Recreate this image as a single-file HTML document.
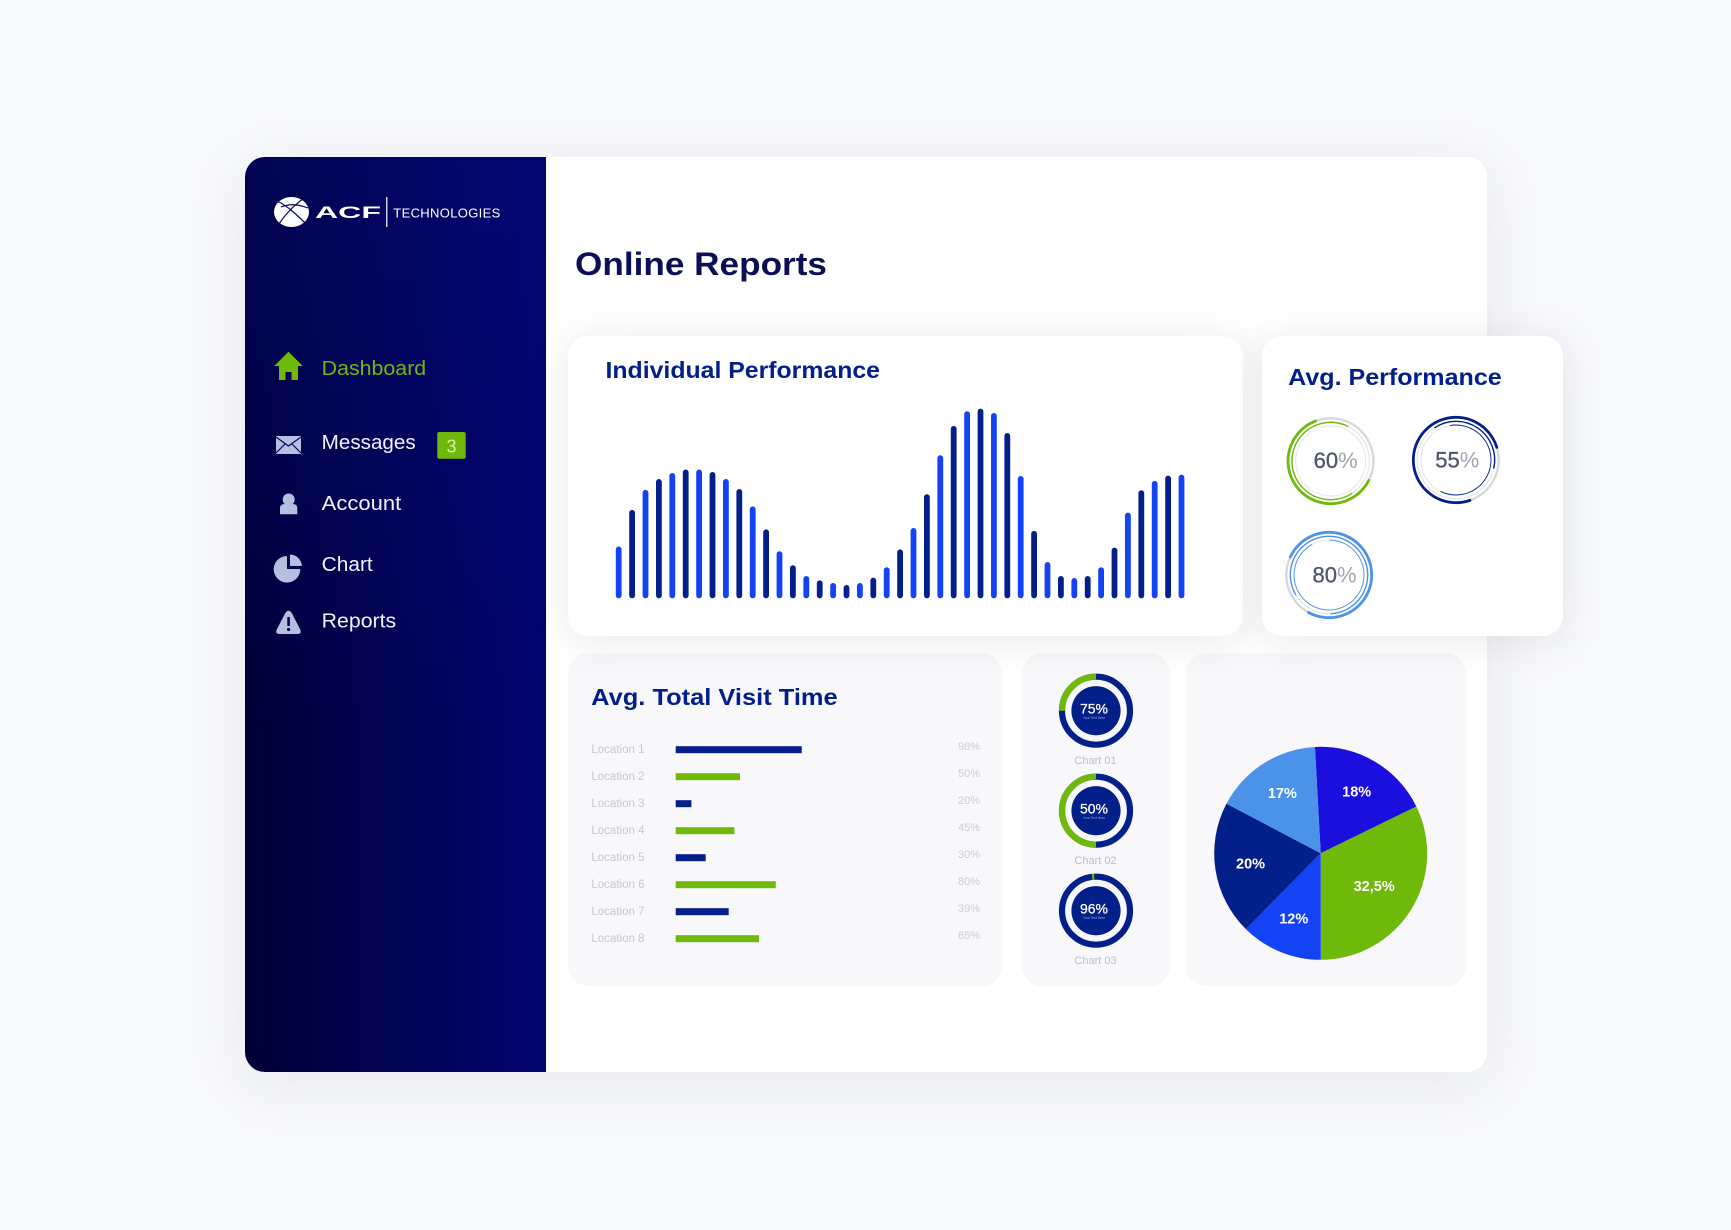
<!DOCTYPE html>
<html lang="en">
<head>
<meta charset="utf-8">
<title>Online Reports</title>
<style>
html,body{margin:0;padding:0;background:#f8f9fb;}
body{position:relative;width:1731px;height:1230px;overflow:hidden;font-family:"Liberation Sans",sans-serif;}
.box{position:absolute;box-sizing:border-box;}
#main-panel{left:245px;top:157px;width:1242px;height:915px;background:#fff;border-radius:20px;box-shadow:0 12px 60px rgba(40,40,70,.08);}
#sidebar{left:245px;top:157px;width:301px;height:915px;border-radius:20px 0 0 20px;background:linear-gradient(180deg,rgba(4,10,120,.4) 0%,rgba(4,10,120,.22) 35%,rgba(4,10,120,0) 62%),linear-gradient(90deg,#000036 0%,#020254 50%,#03036f 100%);}
.soft{background:#f8f8fb;border-radius:20px;}
.raised{background:#fff;border-radius:20px;box-shadow:0 4px 42px rgba(30,30,50,.1);}
svg{position:absolute;left:0;top:0;}
</style>
</head>
<body>
<div class="box" id="main-panel"></div>
<div class="box" id="sidebar"></div>
<div class="box soft" style="left:568px;top:653px;width:434px;height:333px"></div>
<div class="box soft" style="left:1022px;top:653px;width:148px;height:333px"></div>
<div class="box soft" style="left:1186px;top:653px;width:280px;height:333px"></div>
<div class="box raised" style="left:568px;top:336px;width:675px;height:300px"></div>
<div class="box raised" style="left:1262px;top:336px;width:301px;height:300px"></div>

<svg id="art" width="1731" height="1230" viewBox="0 0 1731 1230" xmlns="http://www.w3.org/2000/svg" font-family="'Liberation Sans',sans-serif">
  <!-- logo -->
  <g>
    <ellipse cx="291.5" cy="212" rx="17.5" ry="15" fill="#fff"/>
    <path d="M277 201 C288 206 298 216 306 224 M303 199 C294 205 284 216 279 224 M281 207 C291 203 300 205 308 208" fill="none" stroke="#04055e" stroke-width="1.2"/>
    <text x="315" y="218" font-size="17" font-weight="700" fill="#fff" textLength="66" lengthAdjust="spacingAndGlyphs">ACF</text>
    <rect x="386.2" y="197" width="1.2" height="30" fill="#fff"/>
    <text x="393.3" y="217.3" font-size="13" fill="#fff" textLength="107" lengthAdjust="spacing">TECHNOLOGIES</text>
  </g>

  <!-- navigation -->
  <g>
    <path d="M288.5 351.7 L302.7 366 H298 V380 H291.5 V372 H285.5 V380 H279 V366 H274.3 Z" fill="#6fb90a"/>
    <text x="321.7" y="375" font-size="20" fill="#6fb90a" textLength="104.5" lengthAdjust="spacingAndGlyphs">Dashboard</text>
  </g>
  <g>
    <rect x="276" y="436" width="25" height="18" fill="#b4c0e0"/>
    <path d="M276 437 L288.5 446 L301 437 M276 453 L285 444 M301 453 L292 444" fill="none" stroke="#03045c" stroke-width="1.2"/>
    <text x="321.7" y="449" font-size="20" fill="#f1f3fb" textLength="94" lengthAdjust="spacingAndGlyphs">Messages</text>
    <rect x="437.3" y="432" width="28.4" height="26.7" rx="2" fill="#6fb90a"/>
    <text x="451.5" y="452.5" font-size="18" text-anchor="middle" fill="#d8edb0">3</text>
  </g>
  <g>
    <circle cx="288.7" cy="499.5" r="6" fill="#b4c0e0"/>
    <path d="M280 514.3 V508 Q280 504 285 504 H292.5 Q297.3 504 297.3 508 V514.3 Z" fill="#b4c0e0"/>
    <text x="321.7" y="510" font-size="20" fill="#f1f3fb" textLength="79.5" lengthAdjust="spacingAndGlyphs">Account</text>
  </g>
  <g>
    <path d="M287 556 V569 H300.3 A13.3 13.3 0 1 1 287 556 Z" fill="#b4c0e0"/>
    <path d="M290 554.5 A12 12 0 0 1 301.8 566 H290 Z" fill="#b4c0e0"/>
    <text x="321.7" y="571" font-size="20" fill="#f1f3fb" textLength="51" lengthAdjust="spacingAndGlyphs">Chart</text>
  </g>
  <g>
    <path d="M288.5 610.7 Q290.5 610.7 292 613.5 L300.5 630 Q301.7 634 297.5 634 H279.5 Q275.3 634 276.5 630 L285 613.5 Q286.5 610.7 288.5 610.7 Z" fill="#b4c0e0"/>
    <rect x="287.3" y="617" width="2.6" height="9" fill="#03045c"/>
    <circle cx="288.6" cy="629.5" r="1.6" fill="#03045c"/>
    <text x="321.7" y="627.3" font-size="20" fill="#f1f3fb" textLength="74.5" lengthAdjust="spacingAndGlyphs">Reports</text>
  </g>

  <!-- titles -->
  <text x="575" y="275" font-size="32.5" font-weight="700" fill="#0c0f55" textLength="252" lengthAdjust="spacingAndGlyphs">Online Reports</text>
  <text x="605.5" y="378" font-size="23" font-weight="700" fill="#03208a" textLength="274.5" lengthAdjust="spacingAndGlyphs">Individual Performance</text>
  <text x="1288.2" y="385" font-size="23" font-weight="700" fill="#03208a" textLength="213.5" lengthAdjust="spacingAndGlyphs">Avg. Performance</text>
  <text x="591.2" y="705" font-size="23" font-weight="700" fill="#03208a" textLength="246.5" lengthAdjust="spacingAndGlyphs">Avg. Total Visit Time</text>

  <g id="perf-bars"></g>
  <g id="rings"></g>
  <g id="visit-rows"></g>
  <g id="donuts"></g>
  <g id="pie"></g>
</svg>

<script>
// Individual Performance: bar heights, as a share of the tallest bar
const perfValues = [26.9,46.3,56.9,62.7,65.9,67.7,67.7,66.4,62.7,57.4,48.2,36.0,24.4,17.0,11.3,9.0,7.6,6.5,7.6,10.4,15.9,25.4,36.7,54.6,75.3,90.8,98.6,100,97.7,87.1,64.3,35.2,18.7,11.3,10.2,11.3,15.9,26.3,44.9,56.7,61.7,64.5,65.0];
// Avg. Performance rings
const ringLabels = [60,55,80];
const ringOuterArc = [61.7,75.5,76];
const ringMiddleArc = [67,38,83];
const ringInnerArc = [0,60,92];
// Avg. Total Visit Time
const visitCategories = ["Location 1","Location 2","Location 3","Location 4","Location 5","Location 6","Location 7","Location 8"];
const visitValues = [98,50,12.2,45.6,23.3,77.8,41.2,64.8];
const visitLabels = ["98%","50%","20%","45%","30%","80%","39%","65%"];
// Donuts: printed value, and the share of the ring drawn green
const donutLabels = ["75%","50%","96%"];
const donutGreenShare = [25,50,1];
const donutNames = ["Chart 01","Chart 02","Chart 03"];
const pieValues = [18.6,32.2,12.4,20.3,16.4];
const pieLabels = ["18%","32,5%","12%","20%","17%"];

const NS = "http://www.w3.org/2000/svg";
const NAVY = "#03208a", BLUE = "#1442f5", GREEN = "#6fb90a";
function mk(parent, tag, attrs, text){
  const el = document.createElementNS(NS, tag);
  for (const k in attrs) el.setAttribute(k, attrs[k]);
  if (text !== undefined) el.textContent = text;
  parent.appendChild(el);
  return el;
}
function polar(cx, cy, r, deg){
  const a = (deg - 90) * Math.PI / 180;
  return [cx + r * Math.cos(a), cy + r * Math.sin(a)];
}
function arcPath(cx, cy, r, startDeg, sweepDeg){
  const s = Math.min(sweepDeg, 359.99);
  const p0 = polar(cx, cy, r, startDeg), p1 = polar(cx, cy, r, startDeg + s);
  return "M" + p0[0] + " " + p0[1] + " A" + r + " " + r + " 0 " + (s > 180 ? 1 : 0) + " 1 " + p1[0] + " " + p1[1];
}

// performance bars
const perfX = i => 618.7 + 13.4 * i;
const perfY = v => 597.3 - v * 1.887;
const perfG = document.getElementById("perf-bars");
perfValues.forEach((v, i) => {
  const top = perfY(v);
  const bar = mk(perfG, "rect", {x: perfX(i) - 2.9, y: top, width: 5.8, height: perfY(0) - top + 1, rx: 2.9, fill: i % 2 ? NAVY : BLUE});
  
  
});

// rings
const ringLayout = [
  {cx:1330.7, cy:461, color:GREEN, tx:5, ty:7, a:117, b:146, c:0},
  {cx:1456, cy:460, color:NAVY, tx:1.3, ty:7.5, a:161, b:326, c:350},
  {cx:1329, cy:575, color:"#4a93e8", tx:5.5, ty:7.5, a:295, b:239, c:0}
];
const ringsG = document.getElementById("rings");
ringLabels.forEach((v, i) => {
  const L = ringLayout[i];
  const g = mk(ringsG, "g", {});
  
  
  const track = mk(g, "circle", {cx:L.cx, cy:L.cy, r:42.7, fill:"none", stroke:"#d8d8d8", "stroke-width":2.4});
  
  
  const track2 = mk(g, "circle", {cx:L.cx, cy:L.cy, r:38.7, fill:"none", stroke:"#e0e0e0", "stroke-width":1});
  
  
  const track3 = mk(g, "circle", {cx:L.cx, cy:L.cy, r:35, fill:"none", stroke:"#e6e6e6", "stroke-width":1});
  
  
  const outer = mk(g, "path", {d:arcPath(L.cx, L.cy, 42.7, L.a, ringOuterArc[i] * 3.6), fill:"none", stroke:L.color, "stroke-width":2.8, "stroke-linecap":"round"});
  
  
  const mid = mk(g, "path", {d:arcPath(L.cx, L.cy, 38.7, L.b, ringMiddleArc[i] * 3.6), fill:"none", stroke:L.color, "stroke-width":1.4});
  
  
  if (ringInnerArc[i] > 0) {
    const inner = mk(g, "path", {d:arcPath(L.cx, L.cy, 35, L.c, ringInnerArc[i] * 3.6), fill:"none", stroke:L.color, "stroke-width":0.9});
    
    
  }
  const t = mk(g, "text", {x:L.cx + L.tx, y:L.cy + L.ty, "font-size":22, "text-anchor":"middle", fill:"#4f566e", stroke:"#4f566e", "stroke-width":0.35}, v);
  
  
  mk(t, "tspan", {fill:"#a3a5ad", stroke:"none"}, "%");
});

// visit rows
const visitW = v => v * 1.286;
const visitY = i => 749.7 + 27 * i;
const visitG = document.getElementById("visit-rows");
visitValues.forEach((v, i) => {
  const cat = mk(visitG, "text", {x:591.4, y:visitY(i) + 3.4, "font-size":11.5, fill:"#c6c8ce"}, visitCategories[i]);
  
  
  const bar = mk(visitG, "rect", {x:675.7, y:visitY(i) - 3.5, width:visitW(v), height:7, fill:i % 2 ? GREEN : NAVY});
  
  
  const pct = mk(visitG, "text", {x:958, y:visitY(i) + 0.2, "font-size":11, fill:"#cbccd2"}, visitLabels[i]);
  
  
});

// donuts
const donutY = i => 710.7 + 100 * i;
const donutGap = i => (donutGreenShare[i] < 5 ? 3 : 0);
const donutG = document.getElementById("donuts");
donutGreenShare.forEach((v, i) => {
  const cx = 1096, cy = donutY(i);
  const g = mk(donutG, "g", {});
  
  
  const base = mk(g, "circle", {cx:cx, cy:cy, r:34, fill:"none", stroke:NAVY, "stroke-width":6.2});
  
  
  const sweep = v * 3.6;
  const arc = mk(g, "path", {d:arcPath(cx, cy, 34, -sweep - donutGap(i), sweep), fill:"none", stroke:GREEN, "stroke-width":6.2});
  
  
  const hub = mk(g, "circle", {cx:cx, cy:cy, r:24.6, fill:NAVY});
  
  
  const val = mk(g, "text", {x:cx - 2, y:cy + 2.6, "font-size":14, "text-anchor":"middle", fill:"#fff", stroke:"#fff", "stroke-width":0.25}, donutLabels[i]);
  
  
  const sub = mk(g, "text", {x:cx - 2, y:cy + 8.2, "font-size":3.4, "text-anchor":"middle", fill:"#9aa6d8"}, "Your Text Here");
  
  
  const name = mk(g, "text", {x:cx - 0.5, y:cy + 53.5, "font-size":11, "text-anchor":"middle", fill:"#bcbec6"}, donutNames[i]);
  
  
});

// pie
const pieColors = ["#1a0fdc", GREEN, BLUE, NAVY, "#4a93e8"];
const pieG = document.getElementById("pie");
const pieTotal = pieValues.reduce((a, b) => a + b, 0);
const PCX = 1320.7, PCY = 853.3, PR = 106.5;
let pieAngle = -3.1;
pieValues.forEach((v, i) => {
  const sweep = v / pieTotal * 360;
  const p0 = polar(PCX, PCY, PR, pieAngle), p1 = polar(PCX, PCY, PR, pieAngle + sweep);
  const slice = mk(pieG, "path", {d:"M" + PCX + " " + PCY + " L" + p0[0] + " " + p0[1] + " A" + PR + " " + PR + " 0 " + (sweep > 180 ? 1 : 0) + " 1 " + p1[0] + " " + p1[1] + " Z", fill:pieColors[i]});
  
  
  pieAngle += sweep;
});
pieAngle = -3.1;
pieValues.forEach((v, i) => {
  const sweep = v / pieTotal * 360;
  const pos = polar(PCX, PCY, v > 30 ? 63 : 71, pieAngle + sweep / 2);
  const label = mk(pieG, "text", {x:pos[0], y:pos[1] + 4.5, "font-size":14.5, "font-weight":700, "text-anchor":"middle", fill:"#fff"}, pieLabels[i]);
  
  
  pieAngle += sweep;
});
</script>
</body>
</html>
